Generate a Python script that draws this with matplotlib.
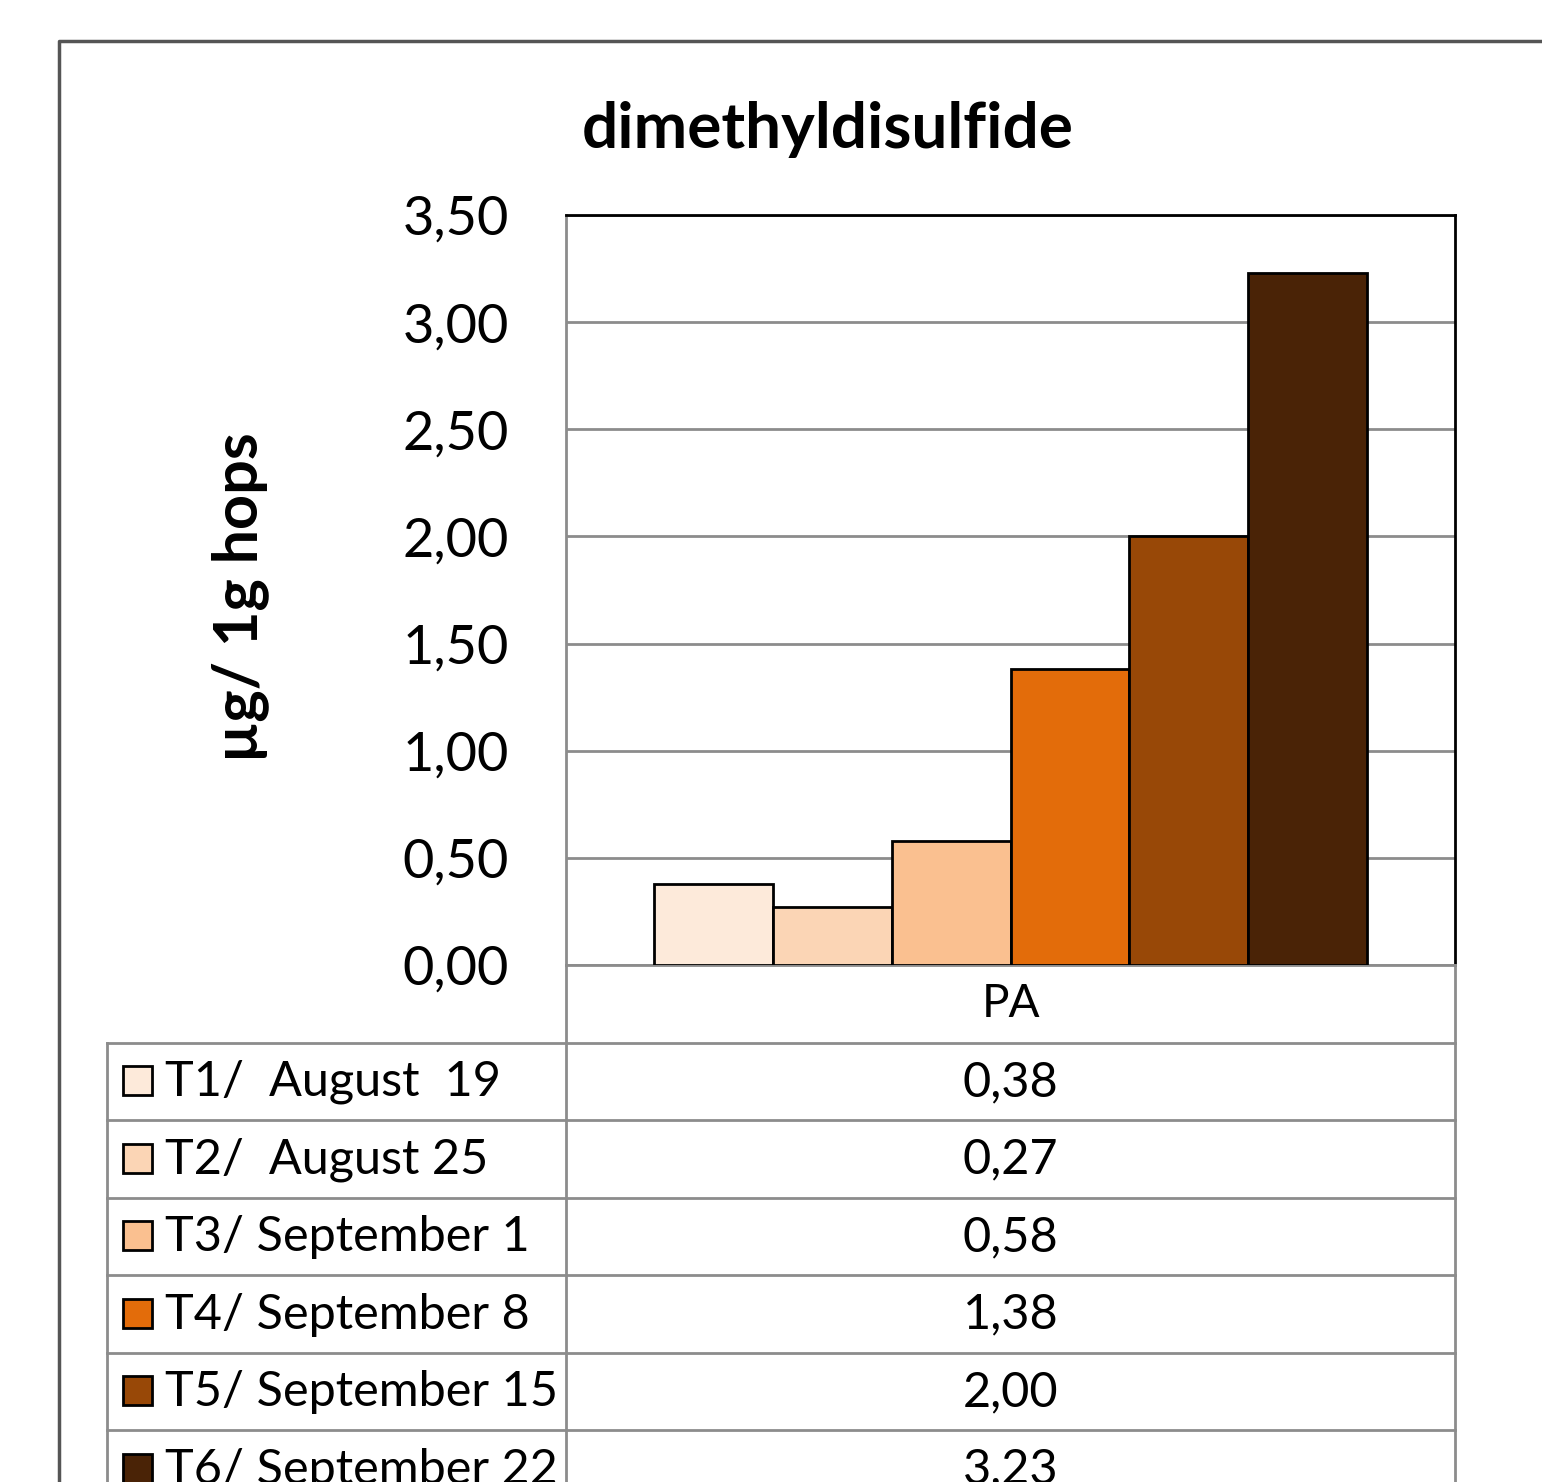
import numpy as np
import matplotlib.pyplot as plt
from matplotlib.patches import Rectangle

plt.rcParams['font.family'] = ['Lato', 'DejaVu Sans']

# data
labels = ['T1/  August  19', 'T2/  August 25', 'T3/ September 1',
          'T4/ September 8', 'T5/ September 15', 'T6/ September 22']
values = [0.38, 0.27, 0.58, 1.38, 2.00, 3.23]
colors = ['#FDEADA', '#FBD5B5', '#FAC090', '#E36C0A', '#984807', '#4A2306']
category = 'PA'
yticks = [0.0, 0.5, 1.0, 1.5, 2.0, 2.5, 3.0, 3.5]

W, H = 1542, 1482
fig = plt.figure(figsize=(W / 100, H / 100), dpi=100)

# pixel layout of the plot area
px_left, px_right, px_top, px_bot = 566, 1455, 215, 965
ax = fig.add_axes([px_left / W, 1 - px_bot / H, (px_right - px_left) / W, (px_bot - px_top) / H])

n = len(values)
gap = 0.099
bw = (1 - 2 * gap) / n
xs = gap + bw * (np.arange(n) + 0.5)
ax.bar(xs, values, width=bw, color=colors, edgecolor='black', linewidth=2, zorder=3)

ax.set_xlim(0, 1)
ax.set_ylim(0, 3.5)
ax.set_yticks(yticks)
ax.set_yticklabels([f'{v:.2f}'.replace('.', ',') for v in yticks], fontsize=39)
ax.tick_params(axis='y', length=0, pad=41)
ax.set_xticks([])
ax.yaxis.grid(True, color='#8c8c8c', linewidth=2, zorder=0)
for s in ['top', 'right']:
    ax.spines[s].set_color('black')
    ax.spines[s].set_linewidth(2)
for s in ['left', 'bottom']:
    ax.spines[s].set_color('#8c8c8c')
    ax.spines[s].set_linewidth(2)

# overlay in pixel coordinates for border, title, table
ov2 = fig.add_axes([0, 0, 1, 1], zorder=5)
ov2.set_xlim(0, W)
ov2.set_ylim(H, 0)
ov2.axis('off')
ov2.patch.set_alpha(0)

# outer chart border
ov2.plot([59, 59, W + 10], [H + 10, 41, 41], color='#555555', linewidth=2.5, clip_on=False)

ov2.text(828, 130, 'dimethyldisulfide', fontsize=46, fontweight='bold', ha='center', va='center')
ov2.text(240, 597, 'µg/ 1g hops', fontsize=44, fontweight='bold', rotation=90, ha='center', va='center')

# data table
row_h = 77.5
grid_c = '#8c8c8c'
tab_left = 107
ov2.text((px_left + px_right) / 2, px_bot + row_h / 2, category, fontsize=33, ha='center', va='center')
ov2.plot([px_left, px_left], [px_bot, H + 10], color=grid_c, linewidth=2)
ov2.plot([px_right, px_right], [px_bot, H + 10], color=grid_c, linewidth=2)
ov2.plot([tab_left, tab_left], [px_bot + row_h, H + 10], color=grid_c, linewidth=2)
for i, (lab, val, col) in enumerate(zip(labels, values, colors)):
    y0 = px_bot + row_h * (i + 1)
    ov2.plot([tab_left, px_right], [y0, y0], color=grid_c, linewidth=2)
    yc = y0 + row_h / 2
    ov2.add_patch(Rectangle((123, yc - 15), 29, 29, facecolor=col, edgecolor='black', linewidth=2))
    ov2.text(165, yc + 1, lab, fontsize=35, ha='left', va='center')
    ov2.text((px_left + px_right) / 2, yc + 1, f'{val:.2f}'.replace('.', ','), fontsize=35,
             ha='center', va='center')

fig.savefig('out.png', dpi=100)
